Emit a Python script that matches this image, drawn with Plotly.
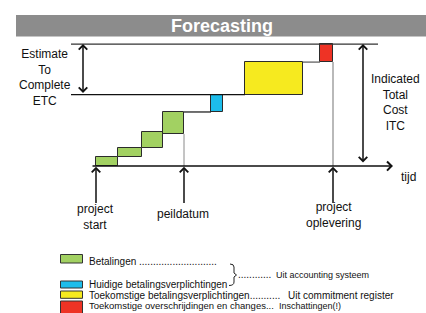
import plotly.graph_objects as go

W, H = 426, 313

# ---------------- data (time in weeks from project start, cost in % of ITC) ----------------
categories = ["Betalingen", "Huidige betalingsverplichtingen",
              "Toekomstige betalingsverplichtingen", "Toekomstige overschrijdingen en changes"]
sources = ["Uit accounting systeem", "Uit commitment register", "Inschattingen(!)"]
colors = ["#A2D162", "#1DBDEB", "#F6EA1F", "#EE3325"]

pay_start = [0.0, 2.2, 4.6, 6.7]
pay_end = [2.2, 4.6, 6.7, 8.8]
pay_base = [0.0, 7.4, 14.8, 26.2]
pay_top = [7.4, 14.8, 27.9, 44.3]

commit_now_start = [11.5]
commit_now_end = [12.7]
commit_now_base = [44.3]
commit_now_top = [58.6]

commit_future_start = [14.9]
commit_future_end = [20.7]
commit_future_base = [58.6]
commit_future_top = [85.2]

overrun_start = [22.4]
overrun_end = [23.7]
overrun_base = [85.2]
overrun_top = [100.0]

ETC_level = 58.6
ITC_level = 100.0

milestone_names = ["project<br>start", "peildatum", "project<br>oplevering"]
milestone_t = [0.0, 8.8, 23.7]

# axis ranges (data units)
X_RANGE = [-9.6, 33.0]
Y_RANGE = [-120.5, 136.1]


def px(x):
    return x / W


def py(y):
    return 1 - y / H


fig = go.Figure()


def add_blocks(starts, ends, bases, tops, color, name):
    fig.add_trace(go.Bar(
        x=[(s + e) / 2 for s, e in zip(starts, ends)],
        width=[e - s for s, e in zip(starts, ends)],
        base=bases,
        y=[t - b for b, t in zip(bases, tops)],
        marker=dict(color=color, line=dict(color="#2b2b2b", width=1)),
        name=name, showlegend=False, hoverinfo="skip"))


add_blocks(pay_start, pay_end, pay_base, pay_top, colors[0], categories[0])
add_blocks(commit_now_start, commit_now_end, commit_now_base, commit_now_top, colors[1], categories[1])
add_blocks(commit_future_start, commit_future_end, commit_future_base, commit_future_top, colors[2], categories[2])
add_blocks(overrun_start, overrun_end, overrun_base, overrun_top, colors[3], categories[3])


def add_line(xs, ys, color="#111111", width=1.2):
    fig.add_trace(go.Scatter(x=xs, y=ys, mode="lines", line=dict(color=color, width=width),
                             showlegend=False, hoverinfo="skip"))


LEFT = -2.5
add_line([LEFT, 28.2], [ITC_level, ITC_level], "#333333")
add_line([LEFT, commit_future_start[0]], [ETC_level, ETC_level])
add_line([pay_end[-1], commit_now_start[0]], [pay_top[-1], pay_top[-1]])
add_line([commit_future_end[0], overrun_start[0]], [commit_future_top[0], commit_future_top[0]], "#555555")
add_line([milestone_t[1], milestone_t[1]], [pay_base[-1], 0], "#8a8a8a", 1)
add_line([milestone_t[2], milestone_t[2]], [overrun_base[0], 0], "#8a8a8a", 1.2)

annotations = []


def arrow(x, y, ax, ay, both=False, width=1.5):
    annotations.append(dict(x=x, y=y, ax=ax, ay=ay, xref="x", yref="y", axref="x", ayref="y",
                            text="", showarrow=True, arrowhead=4, startarrowhead=4,
                            arrowside="end+start" if both else "end",
                            arrowwidth=width, arrowsize=1.1, startarrowsize=1.1, arrowcolor="#111111"))


# time axis
arrow(29.7, 0, -0.5, 0, width=1.6)
# ETC and ITC double arrows
arrow(-1.3, ITC_level, -1.3, ETC_level, both=True)
arrow(26.7, ITC_level, 26.7, 1.6, both=True)
# milestone arrows
for t in milestone_t:
    arrow(t, -0.6, t, -31.5)

FONT = "Arial, Liberation Sans, sans-serif"


def label(text, x, y, size=12, xanchor="center", color="#111111", bold=False):
    if bold:
        text = "<b>" + text + "</b>"
    annotations.append(dict(x=px(x), y=py(y), xref="paper", yref="paper", text=text,
                            showarrow=False, xanchor=xanchor, yanchor="middle", align="center",
                            font=dict(family=FONT, size=size, color=color)))


label("Forecasting", 222, 25.5, size=18, color="white", bold=True)
label("Estimate<br>To<br>Complete<br>ETC", 45, 77.5)
label("Indicated<br>Total<br>Cost<br>ITC", 395, 102.5)
label("tijd", 408, 177)
label(milestone_names[0], 95, 216.5)
label(milestone_names[1], 183, 214)
label(milestone_names[2], 333, 214.5)

# legend
LS = 10
label(categories[0] + " " + "." * 28, 87, 261, size=LS, xanchor="left")
label("." * 12, 236, 274, size=LS, xanchor="left")
label(sources[0], 274, 275, size=9, xanchor="left")
label(categories[1], 87, 284.5, size=LS, xanchor="left")
label(categories[2] + "." * 11, 87, 295, size=LS, xanchor="left")
label(sources[1], 286, 295, size=LS, xanchor="left")
label(categories[3] + "...", 87, 305.5, size=9.5, xanchor="left")
label(sources[2], 277, 305.5, size=9, xanchor="left")

shapes = []
# title bar
shapes.append(dict(type="rect", xref="paper", yref="paper", x0=px(16), x1=px(426), y0=py(15), y1=py(36.5),
                   fillcolor="#8C8C8C", line=dict(width=0), layer="below"))
# legend swatches
sw_y = [(254.5, 263), (281, 288), (291, 298.3), (301, 316)]
for c, (a, b) in zip(colors, sw_y):
    shapes.append(dict(type="rect", xref="paper", yref="paper", x0=px(60.5), x1=px(82.5), y0=py(b), y1=py(a),
                       fillcolor=c, line=dict(color="#333333", width=1)))
# brace
pts = [(230, 264), (234, 264), (234, 267), (234, 273), (236.5, 275), (234, 277), (234, 282), (234, 285.5), (229, 285.5)]
P = [(px(a), py(b)) for a, b in pts]
path = ("M{},{} Q{},{} {},{} L{},{} L{},{} L{},{} L{},{} Q{},{} {},{}".format(
    P[0][0], P[0][1], P[1][0], P[1][1], P[2][0], P[2][1], P[3][0], P[3][1], P[4][0], P[4][1],
    P[5][0], P[5][1], P[6][0], P[6][1], P[7][0], P[7][1], P[8][0], P[8][1]))
shapes.append(dict(type="path", xref="paper", yref="paper", path=path, line=dict(color="#222222", width=1)))

fig.update_layout(
    width=W, height=H, margin=dict(l=0, r=0, t=0, b=0, pad=0),
    paper_bgcolor="white", plot_bgcolor="white",
    barmode="overlay", bargap=0,
    xaxis=dict(range=X_RANGE, visible=False, fixedrange=True),
    yaxis=dict(range=Y_RANGE, visible=False, fixedrange=True),
    annotations=annotations, shapes=shapes, showlegend=False,
)

fig.write_html("out.html", config={"displayModeBar": False},
               post_script="document.body.style.margin='0';document.body.style.overflow='hidden';")
